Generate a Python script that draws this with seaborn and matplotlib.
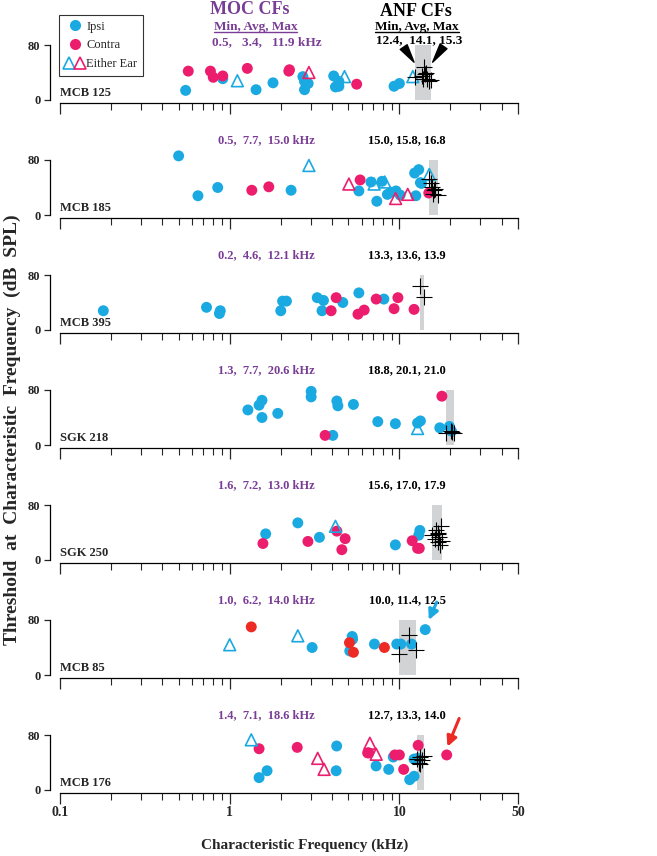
#### MOC vs ANF characteristic frequencies, one panel per animal
import numpy as np
import pandas as pd
import matplotlib
matplotlib.use("Agg")
import matplotlib.pyplot as plt
import seaborn as sns
from matplotlib.lines import Line2D
from matplotlib.legend_handler import HandlerTuple

## panel labels and summary text
units = ["MCB 125", "MCB 185", "MCB 395", "SGK 218", "SGK 250", "MCB 85", "MCB 176"]
moc_stats = ["0.5,   3.4,   11.9 kHz", "0.5,  7.7,  15.0 kHz", "0.2,  4.6,  12.1 kHz",
             "1.3,  7.7,  20.6 kHz", "1.6,  7.2,  13.0 kHz", "1.0,  6.2,  14.0 kHz",
             "1.4,  7.1,  18.6 kHz"]
anf_stats = ["12.4,  14.1, 15.3", "15.0, 15.8, 16.8", "13.3, 13.6, 13.9", "18.8, 20.1, 21.0",
             "15.6, 17.0, 17.9", "10.0, 11.4, 12.5", "12.7, 13.3, 14.0"]
anf_lo = [12.4, 15.0, 13.3, 18.8, 15.6, 10.0, 12.7]
anf_hi = [15.3, 16.8, 13.9, 21.0, 17.9, 12.5, 14.0]

## MOC units: cf (kHz), threshold (dB SPL), type
## I = ipsi, C = contra, EI / EC = either ear (cyan / pink triangle)
mcb125_cf = [0.55, 0.91, 1.43, 1.80, 2.70, 2.76, 2.76, 2.90, 4.1, 4.2, 4.4, 4.4, 9.3, 10.0,
             0.57, 0.77, 0.80, 0.91, 1.27, 2.23, 2.25, 5.6,
             1.11, 4.75, 12.0, 2.93]
mcb125_thr = [14, 31, 15, 25, 34, 27, 15, 24, 35, 19, 20, 27, 20, 24,
              42, 42, 33, 35, 46, 42, 44, 23,
              28, 34, 34, 40]
mcb125_type = ["I"] * 14 + ["C"] * 8 + ["EI", "EI", "EI", "EC"]
mcb125_anf_cf = [12.4, 13.5, 14.0, 14.2, 14.6, 14.9, 15.3, 13.8, 14.3]
mcb125_anf_thr = [33, 35, 48, 38, 31, 28, 29, 30, 40]

mcb185_cf = [0.50, 0.65, 0.85, 2.30, 5.77, 7.36, 6.8, 7.9, 8.5, 8.9, 9.55, 10.1, 12.5, 12.3,
             13.0, 13.3, 13.5,
             1.35, 1.70, 5.87, 14.9,
             2.93, 7.1, 8.2, 15.0, 5.04, 9.5, 11.2]
mcb185_thr = [86, 28, 40, 36, 35, 20, 48, 49, 30, 33, 35, 29, 28, 61, 66, 47, 46,
              36, 41, 51, 32,
              72, 45, 48, 59, 45, 24, 30]
mcb185_type = ["I"] * 17 + ["C"] * 4 + ["EI"] * 4 + ["EC"] * 3
mcb185_anf_cf = [15.0, 15.3, 15.6, 16.0, 15.8, 16.8, 16.3]
mcb185_anf_thr = [53, 46, 41, 36, 31, 29, 38]

mcb395_cf = [0.18, 0.73, 0.87, 0.88, 2.0, 2.05, 2.16, 3.28, 3.57, 3.5, 4.64, 5.77, 8.1,
             3.96, 4.24, 5.7, 6.2, 7.3, 9.3, 9.8, 12.2]
mcb395_thr = [28, 33, 24, 28, 28, 42, 42, 47, 43, 28, 40, 54, 45,
              28, 47, 23, 29, 45, 31, 47, 30]
mcb395_type = ["I"] * 13 + ["C"] * 8
mcb395_anf_cf = [13.3, 13.9]
mcb395_anf_thr = [64, 48]

sgk218_cf = [1.28, 1.49, 1.55, 1.55, 1.92, 3.02, 3.02, 4.05, 4.28, 4.34, 5.36, 7.46, 9.47,
             12.8, 13.3, 17.3, 19.7, 20.3,
             3.65, 17.8,
             12.8]
sgk218_thr = [51, 58, 65, 40, 46, 78, 70, 14, 64, 57, 59, 34, 31, 32, 35, 25, 27, 20,
              14, 71,
              24]
sgk218_type = ["I"] * 18 + ["C"] * 2 + ["EI"]
sgk218_anf_cf = [18.8, 20.1, 20.5, 21.0]
sgk218_anf_thr = [18, 20, 19, 18]

sgk250_cf = [1.63, 2.52, 3.38, 9.47, 13.0, 13.2,
             1.57, 2.89, 4.28, 4.79, 4.58, 11.9, 12.8, 13.1,
             4.2]
sgk250_thr = [38, 54, 33, 22, 36, 43,
              24, 27, 42, 31, 15, 28, 17, 17,
              49]
sgk250_type = ["I"] * 6 + ["C"] * 8 + ["EI"]
sgk250_anf_cf = [15.6, 16.2, 16.5, 16.8, 17.0, 17.2, 17.5, 17.9, 17.3, 16.9]
sgk250_anf_thr = [36, 30, 44, 26, 38, 34, 50, 28, 22, 40]

mcb85_cf = [3.06, 5.27, 5.3, 5.1, 7.13, 9.65, 10.2, 11.8, 14.2,
            1.34, 5.08, 5.36, 8.16,
            1.0, 2.52]
mcb85_thr = [40, 56, 52, 35, 45, 45, 45, 45, 66,
             70, 47, 33, 40,
             44, 57]
mcb85_type = ["I"] * 9 + ["C"] * 4 + ["EI"] * 2
mcb85_anf_cf = [11.4, 10.0, 12.5]
mcb85_anf_thr = [58, 30, 36]

mcb176_cf = [1.49, 1.66, 4.24, 4.27, 7.29, 8.65, 9.2, 11.5, 12.2, 12.2, 12.8,
             1.49, 2.50, 6.5, 6.6, 9.4, 10.0, 10.6, 12.9, 19.0,
             3.3, 3.6, 6.7, 7.3, 1.34]
mcb176_thr = [18, 28, 28, 64, 35, 30, 48, 15, 20, 45, 46,
              60, 62, 54, 54, 51, 51, 30, 65, 51,
              46, 30, 68, 52, 73]
mcb176_type = ["I"] * 11 + ["C"] * 9 + ["EC"] * 4 + ["EI"]
mcb176_anf_cf = [12.7, 13.0, 13.3, 13.6, 14.0, 13.2]
mcb176_anf_thr = [45, 40, 48, 43, 50, 38]

moc_cf = [mcb125_cf, mcb185_cf, mcb395_cf, sgk218_cf, sgk250_cf, mcb85_cf, mcb176_cf]
moc_thr = [mcb125_thr, mcb185_thr, mcb395_thr, sgk218_thr, sgk250_thr, mcb85_thr, mcb176_thr]
moc_type = [mcb125_type, mcb185_type, mcb395_type, sgk218_type, sgk250_type, mcb85_type, mcb176_type]
anf_cf = [mcb125_anf_cf, mcb185_anf_cf, mcb395_anf_cf, sgk218_anf_cf, sgk250_anf_cf,
          mcb85_anf_cf, mcb176_anf_cf]
anf_thr = [mcb125_anf_thr, mcb185_anf_thr, mcb395_anf_thr, sgk218_anf_thr, sgk250_anf_thr,
           mcb85_anf_thr, mcb176_anf_thr]

CYAN = "#1ba9e1"
PINK = "#ec1d6c"
RED = "#ee2a24"
PURPLE = "#7a3d96"
GRAY = "#d2d3d4"
contra_colour = [PINK, PINK, PINK, PINK, PINK, RED, PINK]

sns.set_style("white")
plt.rcParams["font.family"] = ["Liberation Serif", "DejaVu Serif"]
plt.rcParams["font.weight"] = "bold"

W, H = 657, 856
fig = plt.figure(figsize=(W / 100, H / 100), dpi=100)

# pixel layout: y=0 of panel i sits at 100 + 115*i, 80 dB is 55 px above
PX_PER_DB = 55 / 80
YLO, YHI = -5, 110


def draw_panel(ax, i):
    df = pd.DataFrame({"cf": moc_cf[i], "thr": moc_thr[i], "kind": moc_type[i]})
    anf = pd.DataFrame({"cf": anf_cf[i], "thr": anf_thr[i]})

    # grey band spanning the ANF CF range
    ax.fill_between([anf_lo[i], anf_hi[i]], 0, 80, color=GRAY, lw=0, zorder=0)

    sub = df[df.kind == "I"]
    sns.scatterplot(data=sub, x="cf", y="thr", ax=ax, color=CYAN, s=62,
                    edgecolor="none", legend=False, zorder=2)
    sub = df[df.kind == "C"]
    sns.scatterplot(data=sub, x="cf", y="thr", ax=ax, color=contra_colour[i], s=62,
                    edgecolor="none", legend=False, zorder=3)
    for kind, col in [("EI", CYAN), ("EC", PINK)]:
        sub = df[df.kind == kind]
        if len(sub):
            sns.scatterplot(data=sub, x="cf", y="thr", ax=ax, marker="^", s=72,
                            facecolor="none", edgecolor=col, linewidth=1.2,
                            legend=False, zorder=4)
    sns.scatterplot(data=anf, x="cf", y="thr", ax=ax, marker="+", color="black",
                    s=120, linewidth=0.8, legend=False, zorder=5)

    ax.set_xscale("log")
    ax.set_xlim(0.1, 50)
    ax.set_ylim(YLO, YHI)
    ax.set_xlabel("")
    ax.set_ylabel("")

    # spines: short left axis 0-80, pushed out a bit
    sns.despine(ax=ax)
    ax.spines["left"].set_bounds(0, 80)
    ax.spines["left"].set_position(("outward", 7))
    for s in ["left", "bottom"]:
        ax.spines[s].set_color("black")
        ax.spines[s].set_linewidth(0.9)
    ax.set_yticks([0, 80])
    ax.set_yticklabels(["0", "80"], fontsize=9, fontweight="bold")
    ax.set_xticks([0.1, 1, 10, 50])
    ax.xaxis.set_minor_locator(matplotlib.ticker.LogLocator(base=10, subs=np.arange(2, 10)))
    ax.xaxis.set_minor_formatter(matplotlib.ticker.NullFormatter())
    ax.tick_params(axis="y", direction="out", length=4, width=0.9, left=True, pad=3)
    ax.tick_params(axis="x", which="major", direction="out", length=8, width=0.9, bottom=True)
    ax.tick_params(axis="x", which="minor", direction="out", length=5, width=0.8, bottom=True)
    if i == len(units) - 1:
        ax.set_xticklabels(["0.1", "1", "10", "50"], fontsize=10, fontweight="bold")
        ax.tick_params(axis="x", which="major", pad=1)
    else:
        ax.set_xticklabels([])
    ax.patch.set_alpha(0)

    ax.text(0.1, 2, units[i], fontsize=9, fontweight="bold", ha="left", va="bottom")
    if i > 0:
        ax.text(1.65, 109, moc_stats[i], color=PURPLE, fontsize=9, fontweight="bold",
                ha="center", va="center", clip_on=False)
        ax.text(11.1, 109, anf_stats[i], color="black", fontsize=9, fontweight="bold",
                ha="center", va="center", clip_on=False)


axes = []
for i in range(len(units)):
    zero_px = 100 + 115 * i
    bottom_px = zero_px - YLO * PX_PER_DB
    height_px = (YHI - YLO) * PX_PER_DB
    ax = fig.add_axes([60 / W, 1 - bottom_px / H, 458 / W, height_px / H])
    draw_panel(ax, i)
    axes.append(ax)

# top panel header texts
ax0 = axes[0]
ax0.text(1.31, 131, "MOC CFs", color=PURPLE, fontsize=13, fontweight="bold",
         ha="center", va="center", clip_on=False)
moc_hdr = ax0.text(1.42, 106, "Min, Avg, Max", color=PURPLE, fontsize=9.5, fontweight="bold",
                   ha="center", va="center", clip_on=False)
ax0.text(1.65, 84, moc_stats[0], color=PURPLE, fontsize=9.5, fontweight="bold",
         ha="center", va="center", clip_on=False)
ax0.text(12.6, 128, "ANF CFs", color="black", fontsize=13, fontweight="bold",
         ha="center", va="center", clip_on=False)
anf_hdr = ax0.text(12.7, 106, "Min, Avg, Max", color="black", fontsize=9.5, fontweight="bold",
                   ha="center", va="center", clip_on=False)
ax0.text(13.0, 87, anf_stats[0], color="black", fontsize=9.5, fontweight="bold",
         ha="center", va="center", clip_on=False)

# wedge pointers onto the grey band
for tail, tip in [((10.6, 77), (12.2, 55)), ((18.2, 78), (15.7, 55))]:
    ax0.annotate("", xy=tip, xytext=tail, annotation_clip=False,
                 arrowprops=dict(arrowstyle="wedge,tail_width=0.6", color="black",
                                 shrinkA=0, shrinkB=0))

# coloured arrows on the two bottom panels
axes[5].annotate("", xy=(14.9, 80), xytext=(16.6, 106), annotation_clip=False,
                 arrowprops=dict(arrowstyle="-|>,head_length=0.6,head_width=0.3",
                                 color=CYAN, lw=2.2, shrinkA=0, shrinkB=0))
axes[6].annotate("", xy=(19.2, 63), xytext=(22.5, 104), annotation_clip=False,
                 arrowprops=dict(arrowstyle="-|>,head_length=0.6,head_width=0.3",
                                 color=RED, lw=2.2, shrinkA=0, shrinkB=0))

# legend
h_ipsi = Line2D([], [], marker="o", ls="", color=CYAN, markersize=8, markeredgewidth=0)
h_contra = Line2D([], [], marker="o", ls="", color=PINK, markersize=8, markeredgewidth=0)
h_tri_c = Line2D([], [], marker="^", ls="", mfc="none", mec=CYAN, markersize=8, mew=1.2)
h_tri_p = Line2D([], [], marker="^", ls="", mfc="none", mec=PINK, markersize=8, mew=1.2)
leg = fig.legend([h_ipsi, h_contra, (h_tri_c, h_tri_p)], ["Ipsi", "Contra", "Either Ear"],
                 handler_map={tuple: HandlerTuple(ndivide=None, pad=0.1)},
                 loc="upper left", bbox_to_anchor=(59 / W, 1 - 15 / H),
                 bbox_transform=fig.transFigure, borderaxespad=0,
                 prop={"family": "Liberation Serif", "weight": "normal", "size": 9},
                 frameon=True, fancybox=False, edgecolor="black", handlelength=1.6,
                 handletextpad=0.15, labelspacing=0.55, borderpad=0.45)
leg.get_frame().set_linewidth(0.8)

# axis titles
fig.text(12.5 / W, 1 - 430 / H, "Threshold  at  Characteristic  Frequency  (dB  SPL)",
         rotation=90, ha="center", va="center", fontsize=14, fontweight="bold")
fig.text(305 / W, 1 - 845 / H, "Characteristic Frequency (kHz)",
         ha="center", va="center", fontsize=11, fontweight="bold")

# underline the Min, Avg, Max headers
fig.canvas.draw()
renderer = fig.canvas.get_renderer()
for t, col in [(moc_hdr, PURPLE), (anf_hdr, "black")]:
    bb = t.get_window_extent(renderer).transformed(fig.transFigure.inverted())
    fig.add_artist(Line2D([bb.x0, bb.x1], [bb.y0 + 0.001, bb.y0 + 0.001],
                          transform=fig.transFigure, color=col, lw=1.0))

plt.savefig("out.png", dpi=100)
plt.close()
print("saved out.png")
